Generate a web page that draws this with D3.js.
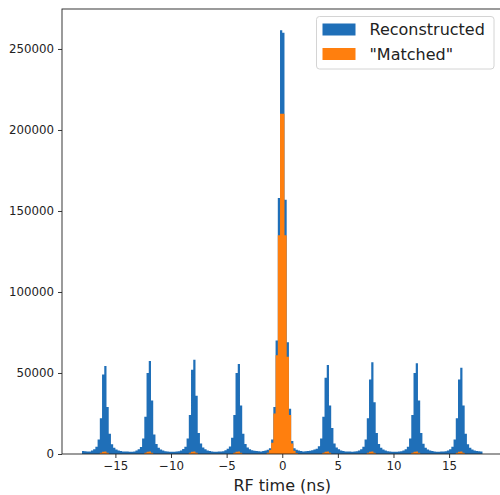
<!DOCTYPE html>
<html>
<head>
<meta charset="utf-8">
<script src="https://cdn.jsdelivr.net/npm/d3@7"></script>
<style>
	body { margin: 0; background: #fff; }
	svg { display: block; font-family: 'DejaVu Sans', sans-serif; }
</style>
</head>
<body>
<div id="chart"></div>
<script>
// RF time histogram, 0.2 ns bins from -18 to 18 ns

const binStart = -18
const binWidth = 0.2

// counts per bin, one row per 4 ns bunch
const reconstructed = [
	1900, 1700, 1500, 1600, 2200, 3000, 4500, 9000, 22000, 49000, 54300, 29000, 12500, 6000, 3800, 2800, 2200, 1800, 1600, 1500,
	1500, 1400, 1400, 1600, 2100, 2900, 4300, 9500, 23000, 50000, 57400, 33000, 12000, 6200, 3900, 2800, 2100, 1700, 1500, 1400,
	1400, 1400, 1500, 1700, 2200, 3100, 4500, 9500, 24000, 52000, 58200, 36000, 13000, 6500, 4000, 2900, 2200, 1800, 1500, 1400,
	1400, 1500, 1500, 1700, 2300, 3200, 4700, 10000, 24000, 50000, 55500, 30000, 12500, 6200, 4000, 2900, 2300, 2000, 1800, 1700,
	1600, 1800, 2200, 2600, 3500, 9000, 29000, 70000, 158000, 261600, 260000, 157000, 69000, 28000, 8000, 3500, 2600, 2200, 1800, 1600,
	1700, 1800, 2000, 2300, 2800, 3300, 4800, 9500, 23000, 47000, 55000, 30000, 16000, 6500, 4000, 2900, 2200, 1800, 1600, 1500,
	1500, 1400, 1500, 1700, 2200, 3000, 4400, 9000, 22000, 46000, 56600, 32000, 13000, 6200, 3900, 2800, 2100, 1700, 1500, 1400,
	1400, 1400, 1500, 1700, 2200, 3000, 4500, 9500, 24000, 50000, 56000, 33000, 13000, 6300, 3900, 2800, 2200, 1800, 1500, 1400,
	1400, 1500, 1500, 1700, 2200, 3000, 4400, 9000, 22000, 46000, 53300, 30000, 12500, 6000, 3800, 2800, 2200, 1900, 1700, 1600,
]

const matched = [
	0, 0, 0, 0, 0, 0, 0, 0, 700, 1400, 1500, 800, 0, 0, 0, 0, 0, 0, 0, 0,
	0, 0, 0, 0, 0, 0, 0, 0, 700, 1400, 1500, 800, 0, 0, 0, 0, 0, 0, 0, 0,
	0, 0, 0, 0, 0, 0, 0, 0, 700, 1400, 1500, 800, 0, 0, 0, 0, 0, 0, 0, 0,
	0, 0, 0, 0, 0, 0, 0, 0, 700, 1400, 1500, 800, 0, 0, 0, 0, 0, 0, 0, 0,
	0, 0, 0, 800, 2500, 7000, 25000, 61000, 135000, 210000, 210000, 135000, 60000, 24000, 6500, 2000, 600, 0, 0, 0,
	0, 0, 0, 0, 0, 0, 0, 0, 700, 1400, 1500, 800, 0, 0, 0, 0, 0, 0, 0, 0,
	0, 0, 0, 0, 0, 0, 0, 0, 700, 1400, 1500, 800, 0, 0, 0, 0, 0, 0, 0, 0,
	0, 0, 0, 0, 0, 0, 0, 0, 700, 1400, 1500, 800, 0, 0, 0, 0, 0, 0, 0, 0,
	0, 0, 0, 0, 0, 0, 0, 0, 700, 1400, 1500, 800, 0, 0, 0, 0, 0, 0, 0, 0,
]

const xTicks = [-15, -10, -5, 0, 5, 10, 15]
const yTicks = [0, 50000, 100000, 150000, 200000, 250000]
const seriesNames = ['Reconstructed', '"Matched"']
const seriesColors = ['#1f6fb8', '#ff7f0e']

function drawChart() {
	const svgWidth = 500
	const svgHeight = 495
	const margin = { top: 9, left: 62 }
	const plotRight = 502.5
	const plotBottom = 454

	const svg = d3
		.select('#chart')
		.append('svg')
		.attr('width', svgWidth)
		.attr('height', svgHeight)

	const x = d3.scaleLinear().domain([-19.8, 19.8]).range([margin.left, plotRight])
	const yMax = d3.max(reconstructed) * 1.05
	const y = d3.scaleLinear().domain([0, yMax]).range([plotBottom, margin.top])

	// histogram as step areas
	const toSteps = (counts) => {
		const pts = counts.map((c, i) => ({ x: binStart + i * binWidth, y: c }))
		pts.push({ x: binStart + counts.length * binWidth, y: counts[counts.length - 1] })
		return pts
	}
	const area = d3
		.area()
		.curve(d3.curveStepAfter)
		.x((d) => x(d.x))
		.y0(y(0))
		.y1((d) => y(d.y))

	;[reconstructed, matched].forEach((counts, i) => {
		svg
			.append('path')
			.datum(toSteps(counts))
			.attr('fill', seriesColors[i])
			.attr('d', area)
	})

	// axes
	const xAxis = svg
		.append('g')
		.attr('transform', `translate(0,${plotBottom})`)
		.call(
			d3.axisBottom(x)
				.tickValues(xTicks)
				.tickSize(4)
				.tickPadding(4)
				.tickFormat((d) => (d < 0 ? '\u2212' + Math.abs(d) : d))
		)
	const yAxis = svg
		.append('g')
		.attr('transform', `translate(${margin.left},0)`)
		.call(d3.axisLeft(y).tickValues(yTicks).tickSize(4).tickPadding(4).tickFormat(d3.format('d')))

	;[xAxis, yAxis].forEach((g) => {
		g.select('.domain').remove()
		g.selectAll('.tick line').attr('stroke', '#222').attr('stroke-width', 0.9)
		g.selectAll('.tick text')
			.attr('fill', '#222')
			.style('font-size', '11.8px')
			.style('font-family', "'DejaVu Sans', sans-serif")
	})

	// frame
	svg
		.append('rect')
		.attr('x', margin.left)
		.attr('y', margin.top)
		.attr('width', plotRight - margin.left)
		.attr('height', plotBottom - margin.top)
		.attr('fill', 'none')
		.attr('stroke', '#222')
		.attr('stroke-width', 0.9)

	svg
		.append('text')
		.attr('x', x(0))
		.attr('y', 491)
		.attr('text-anchor', 'middle')
		.attr('fill', '#222')
		.style('font-size', '16px')
		.text('RF time (ns)')

	// legend
	const legend = svg.append('g')
	legend
		.append('rect')
		.attr('x', 316.5)
		.attr('y', 16.5)
		.attr('width', 177.5)
		.attr('height', 52.5)
		.attr('rx', 3)
		.attr('fill', '#fff')
		.attr('fill-opacity', 0.8)
		.attr('stroke', '#d4d4d4')

	seriesNames.forEach((name, i) => {
		const cy = 29.5 + i * 24.5
		legend
			.append('rect')
			.attr('x', 322.5)
			.attr('y', cy - 6)
			.attr('width', 33)
			.attr('height', 12)
			.attr('fill', seriesColors[i])
		legend
			.append('text')
			.attr('x', 369.5)
			.attr('y', cy)
			.attr('dy', '0.36em')
			.attr('fill', '#222')
			.style('font-size', '16px')
			.text(name)
	})
}

drawChart()
</script>
</body>
</html>
